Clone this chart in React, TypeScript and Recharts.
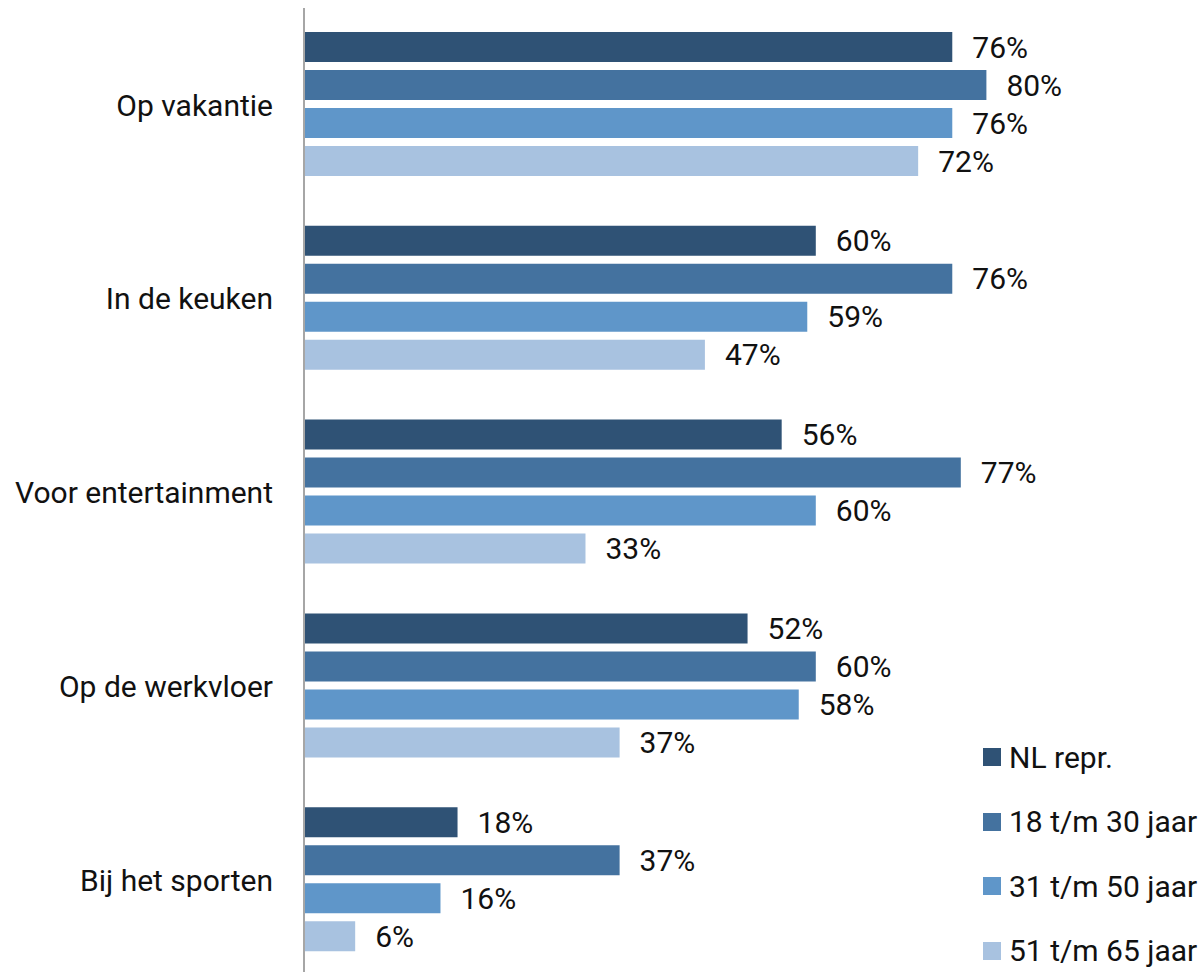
import React from 'react';
import { BarChart, Bar, XAxis, YAxis, LabelList } from 'recharts';

const categories = ['Op vakantie', 'In de keuken', 'Voor entertainment', 'Op de werkvloer', 'Bij het sporten'];
const nlRepr = [76, 60, 56, 52, 18];
const age18to30 = [80, 76, 77, 60, 37];
const age31to50 = [76, 59, 60, 58, 16];
const age51to65 = [72, 47, 33, 37, 6];

const seriesNames = ['NL repr.', '18 t/m 30 jaar', '31 t/m 50 jaar', '51 t/m 65 jaar'];
const seriesColors = ['#2F5275', '#44729F', '#5F96C9', '#A8C2E0'];
const seriesKeys = ['s0', 's1', 's2', 's3'];

const FONT = 'Roboto, "DejaVu Sans", sans-serif';

const CustomLegend = () => (
  <div style={{ position: 'absolute', left: 983, top: 725, fontFamily: FONT }}>
    {seriesNames.map((name, i) => (
      <div key={name} style={{ display: 'flex', alignItems: 'center', height: 64.5 }}>
        <div style={{ width: 18, height: 18, background: seriesColors[i], marginRight: 8 }} />
        <span style={{ fontSize: 30, color: '#111', whiteSpace: 'nowrap' }}>{name}</span>
      </div>
    ))}
  </div>
);

export default function App() {
  // build rows for recharts from the separate arrays
  const data = categories.map((name, i) => ({
    name,
    s0: nlRepr[i],
    s1: age18to30[i],
    s2: age31to50[i],
    s3: age51to65[i],
  }));

  return (
    <div style={{ position: 'absolute', left: 0, top: 0, width: 1204, height: 972, overflow: 'hidden', background: '#fff' }}>
      <BarChart
        width={1204}
        height={980}
        data={data}
        layout="vertical"
        margin={{ top: 8, right: 47, bottom: 3, left: 0 }}
        barCategoryGap={24}
        barGap={8}
      >
        <XAxis type="number" domain={[0, 100]} hide />
        <YAxis
          type="category"
          dataKey="name"
          width={304}
          tickLine={false}
          tickSize={0}
          tickMargin={31}
          axisLine={{ stroke: '#A6A6A6', strokeWidth: 2 }}
          tick={{ fill: '#111', fontSize: 30, fontFamily: FONT }}
        />
        {seriesKeys.map((k, i) => (
          <Bar key={k} dataKey={k} name={seriesNames[i]} fill={seriesColors[i]} isAnimationActive={false}>
            <LabelList
              dataKey={k}
              position="right"
              offset={20}
              formatter={(v: number) => `${v}%`}
              style={{ fill: '#111', fontSize: 30, fontFamily: FONT }}
            />
          </Bar>
        ))}
      </BarChart>
      <CustomLegend />
    </div>
  );
}
